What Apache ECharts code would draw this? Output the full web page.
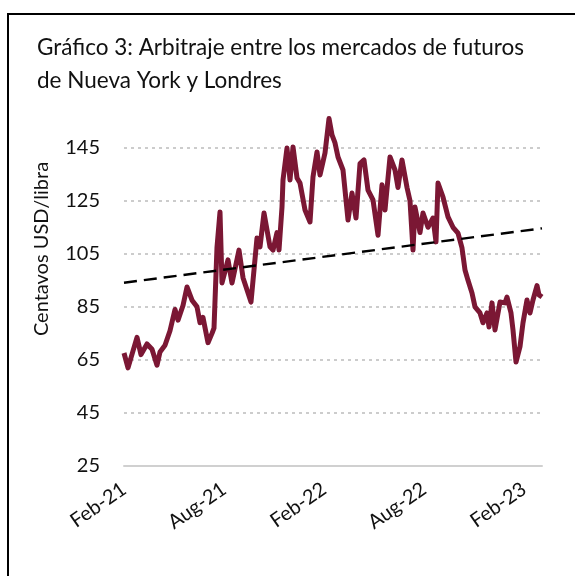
<!DOCTYPE html>
<html>
<head>
<meta charset="utf-8">
<script src="https://cdn.jsdelivr.net/npm/echarts@6/dist/echarts.min.js"></script>
<style>
  html, body { margin: 0; padding: 0; background: #fff; }
  #chart { width: 575px; height: 576px; }
</style>
</head>
<body>
<div id="chart"></div>
<script>
// months counted from Feb-21 (0) to early Mar-23 (~25)
var months = [0, 0.24, 0.78, 1.02, 1.38, 1.68, 1.98, 2.16, 2.46, 2.76, 3.06, 3.24, 3.54, 3.78, 4.08, 4.38, 4.56, 4.74, 5.04, 5.28, 5.4,
  5.58, 5.76, 5.88, 6.24, 6.48, 6.9, 7.14, 7.62, 7.98, 8.16, 8.4, 8.76, 8.94, 9.18, 9.3, 9.48, 9.54, 9.78, 9.96, 10.14, 10.38, 10.56,
  10.86, 11.16, 11.34, 11.58, 11.76, 11.88, 12.06, 12.3, 12.48, 12.66, 12.84, 13.14, 13.44, 13.68, 13.92, 14.16, 14.4, 14.64, 14.94,
  15.24, 15.48, 15.66, 15.96, 16.26, 16.44, 16.68, 16.98, 17.16, 17.34, 17.46, 17.76, 17.94, 18.24, 18.54, 18.72, 18.84, 19.14, 19.44,
  19.74, 20.04, 20.28, 20.46, 20.64, 20.88, 21.06, 21.36, 21.54, 21.78, 21.9, 22.08, 22.26, 22.56, 22.86, 22.98, 23.22, 23.34, 23.52,
  23.76, 23.94, 24.18, 24.36, 24.54, 24.78, 24.9, 25.08]
var prices = [67.6, 62, 73.5, 67, 71, 69, 63, 68, 70.5, 76, 84, 80, 85.5, 92.5, 87.5, 85, 79, 81, 71.5, 75, 77,
  107.5, 120.8, 94, 102.7, 94, 106.4, 96, 86.8, 111, 107.6, 120.4, 107.6, 106.4, 113, 106.4, 122.6, 132.8, 144.9, 132.8, 145.3, 133.6, 131.7,
  121.5, 117, 134, 143.4, 134.7, 134, 143, 156, 149.8, 146.8, 141.5, 136.6, 117.7, 127.9, 118.5, 139, 140.4, 129, 125.3,
  112, 131, 121.5, 141.5, 136.6, 130, 140.4, 130, 125, 106.4, 122.6, 113, 120.4, 115, 118.5, 109.5, 131.7, 126.4, 118.9,
  115, 112.8, 107.2, 98.9, 95, 90.2, 85, 82.7, 79, 82.7, 77.4, 86.5, 76.3, 86.8, 86.5, 88.7, 82.7, 76.3, 64.2,
  70, 79, 87.6, 82.7, 87.6, 93, 89.5, 88.7]

// linear trend, start and end
var trendMonths = [0, 25.08]
var trendValues = [94.1, 114.6]

var xLabels = ['Feb-21', 'Aug-21', 'Feb-22', 'Aug-22', 'Feb-23']
var titleLines = ['Gráfico 3: Arbitraje entre los mercados de futuros', 'de Nueva York y Londres']
var yName = 'Centavos USD/libra'

var myChart = echarts.init(document.getElementById('chart'))

var option = {
  animation: false,
  grid: { left: 124, right: 33, top: 147.7, bottom: 110 },
  graphic: [
    { type: 'rect', shape: { x: 8, y: 14, width: 600, height: 600 },
      style: { fill: 'none', stroke: '#000', lineWidth: 2 } },
    { type: 'text', left: 37, top: 31,
      style: { text: titleLines.join('\n'), font: '22.5px Lato', fill: '#111', lineHeight: 33 } },
    { type: 'text', x: 42, y: 249, rotation: Math.PI / 2,
      style: { text: yName, font: '20px Lato', fill: '#111', align: 'center', verticalAlign: 'middle' } }
  ],
  xAxis: {
    type: 'value', min: 0, max: 25.08, interval: 6,
    axisLine: { lineStyle: { color: '#d0d0d0', width: 2 } },
    axisTick: { show: false },
    splitLine: { show: false },
    axisLabel: {
      rotate: 35, margin: 21, color: '#111', fontFamily: 'Lato', fontSize: 20,
      showMaxLabel: false,
      formatter: function (v) { return xLabels[Math.round(v / 6)] || '' }
    }
  },
  yAxis: {
    type: 'value', min: 25, max: 145, interval: 20,
    axisLine: { show: false },
    axisTick: { show: false },
    axisLabel: { margin: 24, color: '#111', fontFamily: 'Lato', fontSize: 20 },
    splitLine: { lineStyle: { color: '#cccccc', type: [3, 4], width: 2 } }
  },
  series: [
    {
      type: 'line', clip: false, symbol: 'none',
      data: months.map(function (m, i) { return [m, prices[i]] }),
      lineStyle: { color: '#7B1734', width: 5, join: 'round' }
    },
    {
      type: 'line', symbol: 'none',
      data: trendMonths.map(function (m, i) { return [m, trendValues[i]] }),
      lineStyle: { color: '#000', width: 2.4, type: [13, 7] }
    }
  ]
}

myChart.setOption(option)
</script>
</body>
</html>
